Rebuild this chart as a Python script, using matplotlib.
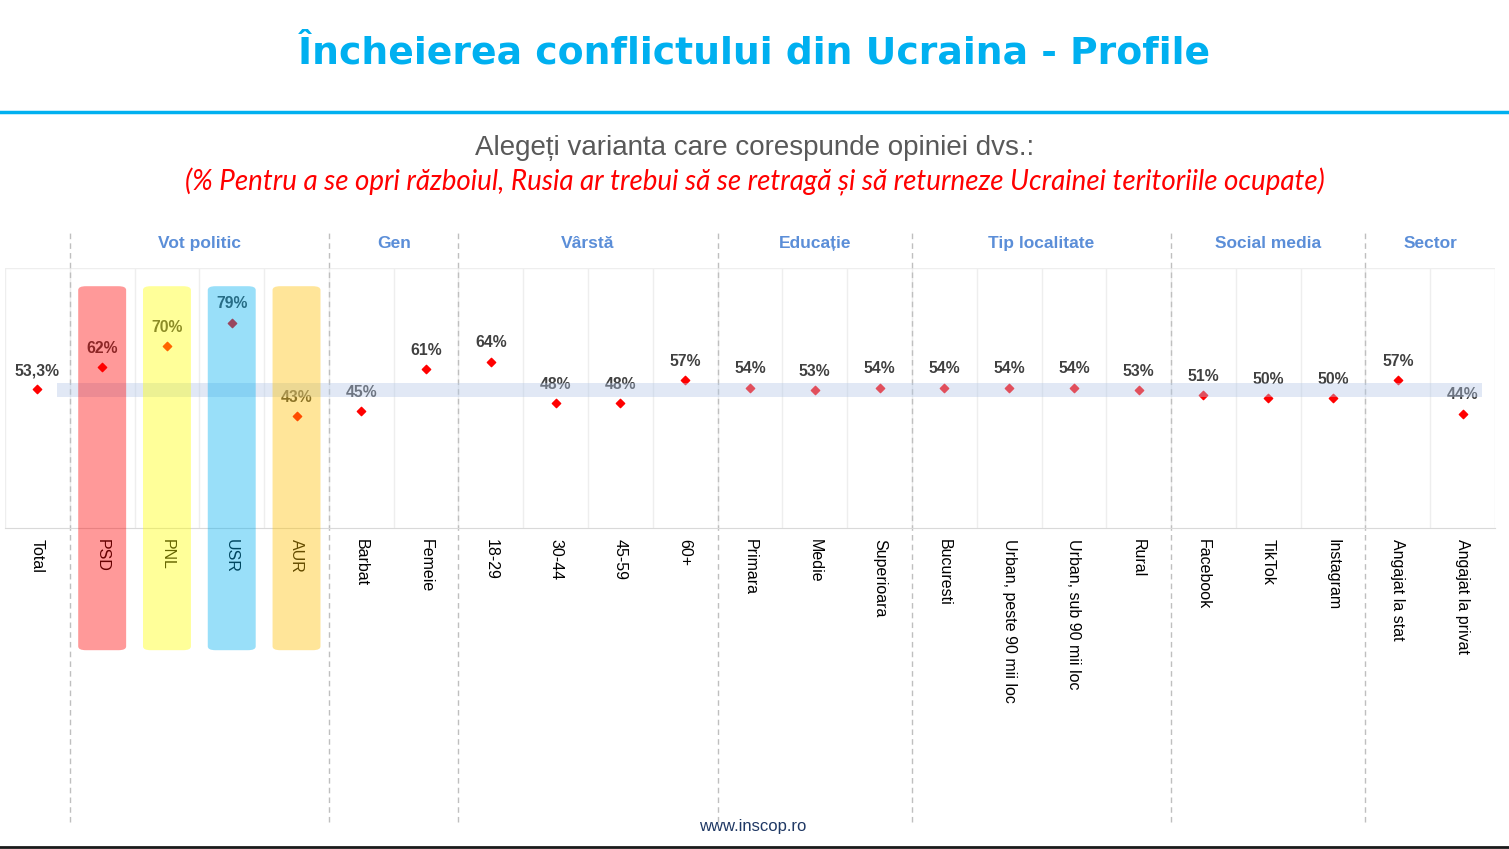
import numpy as np
import matplotlib.pyplot as plt
from matplotlib.patches import FancyBboxPatch, Rectangle

# Data
categories = ['Total', 'PSD', 'PNL', 'USR', 'AUR', 'Barbat', 'Femeie',
              '18-29', '30-44', '45-59', '60+', 'Primara', 'Medie', 'Superioara',
              'Bucuresti', 'Urban, peste 90 mii loc', 'Urban, sub 90 mii loc', 'Rural',
              'Facebook', 'TikTok', 'Instagram', 'Angajat la stat', 'Angajat la privat']
values = [53.3, 62, 70, 79, 43, 45, 61, 64, 48, 48, 57, 54, 53, 54,
          54, 54, 54, 53, 51, 50, 50, 57, 44]
value_labels = ['53,3%', '62%', '70%', '79%', '43%', '45%', '61%', '64%', '48%', '48%',
                '57%', '54%', '53%', '54%', '54%', '54%', '54%', '53%', '51%', '50%',
                '50%', '57%', '44%']
groups = ['Vot politic', 'Gen', 'Vârstă', 'Educație', 'Tip localitate', 'Social media', 'Sector']
group_sizes = [4, 2, 4, 3, 4, 3, 2]
party_colors = {'PSD': '#FF0000', 'PNL': '#FFFF00', 'USR': '#00B0F0', 'AUR': '#FFC000'}

W, H = 1509, 849
fig = plt.figure(figsize=(W / 100, H / 100), dpi=100)
plt.rcParams['font.family'] = ['Liberation Sans', 'DejaVu Sans']

ax = fig.add_axes([5 / W, 1 - 528 / H, 1490 / W, 260 / H])
n = len(categories)
x = np.arange(n)
ax.set_xlim(-0.5, n - 0.5)
ax.set_ylim(0, 100)

# light column grid
for k in range(n + 1):
    ax.axvline(k - 0.5, color='#EEEEEE', lw=1, zorder=0)
ax.axhline(100, color='#EEEEEE', lw=1, zorder=0)
for s in ['top', 'left', 'right']:
    ax.spines[s].set_visible(False)
ax.spines['bottom'].set_color('#D9D9D9')
ax.set_yticks([])
ax.tick_params(axis='x', length=0, pad=8)
ax.set_xticks(x)
ax.set_xticklabels(categories, rotation=-90, fontsize=11.5, va='top', ha='center')

# markers + labels
ax.scatter(x, values, marker='D', s=18, color='#FF0000', zorder=3)
for xi, v, lab in zip(x, values, value_labels):
    ax.annotate(lab, (xi, v), xytext=(0, 8), textcoords='offset points',
                ha='center', va='bottom', fontsize=11.3, fontweight='bold',
                color='#404040', zorder=3)

# total band
ax.add_patch(Rectangle((0.3, 50.5), n - 1, 5.3, facecolor='#B4C7E7', alpha=0.4,
                       lw=0, zorder=4))

# party bars, drawn above with transparency
for name, col in party_colors.items():
    i = categories.index(name)
    bar = FancyBboxPatch((i - 0.37, -47), 0.74, 140,
                         boxstyle='round,pad=0,rounding_size=0.12',
                         mutation_aspect=12, facecolor=col, alpha=0.4, lw=0,
                         zorder=5, clip_on=False)
    ax.add_patch(bar)

# group separators and labels
bounds = np.cumsum([1] + group_sizes)
for b in bounds[:-1]:
    ax.plot([b - 0.5, b - 0.5], [-113, 115], ls=(0, (4, 3)), color='#BFBFBF',
            lw=1, clip_on=False, zorder=1)
start = 1
for g, sz in zip(groups, group_sizes):
    ax.text(start + (sz - 1) / 2, 109.5, g, ha='center', va='center', fontsize=12.5,
            fontweight='bold', color='#5B8ED8')
    start += sz

# header
fig.text(0.5, 1 - 53 / H, 'Încheierea conflictului din Ucraina - Profile', ha='center',
         va='center', fontsize=27.2, fontweight='bold', color='#00B0F0',
         family='DejaVu Sans')
fig.add_artist(plt.Line2D([0, 1], [1 - 112 / H] * 2, color='#00B0F0', lw=2.5))
fig.text(0.5, 1 - 148 / H, 'Alegeți varianta care corespunde opiniei dvs.:', ha='center',
         va='center', fontsize=20, color='#595959')
fig.text(0.5, 1 - 182 / H,
         '(% Pentru a se opri războiul, Rusia ar trebui să se retragă și să returneze '
         'Ucrainei teritoriile ocupate)', ha='center', va='center', fontsize=20,
         style='italic', color='#FF0000', family=['Lato', 'DejaVu Sans'])
fig.text(753 / W, 1 - 827 / H, 'www.inscop.ro', ha='center', va='center', fontsize=12,
         color='#1F3864')
fig.add_artist(plt.Line2D([0, 1], [1 - 847 / H] * 2, color='#1A1A1A', lw=2))

fig.savefig('out.png', dpi=100)
